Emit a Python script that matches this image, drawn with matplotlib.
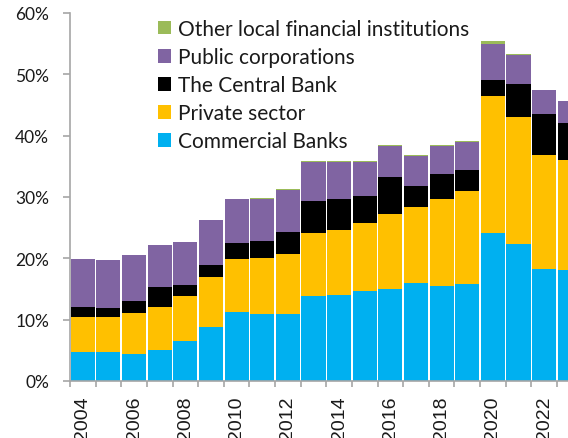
import matplotlib
matplotlib.use("Agg")
import matplotlib.pyplot as plt
import numpy as np

years = list(range(2004, 2024))

# shares of total, in percent
commercial_banks = [4.7, 4.7, 4.4, 5.05, 6.5, 8.85, 11.2, 11.0, 11.0, 13.85,
                    14.1, 14.7, 15.05, 15.9, 15.5, 15.8, 24.2, 22.4, 18.2, 18.05]
private_sector = [5.7, 5.8, 6.7, 7.05, 7.3, 8.05, 8.65, 9.0, 9.65, 10.35,
                  10.6, 11.1, 12.15, 12.55, 14.2, 15.2, 22.3, 20.7, 18.6, 17.95]
central_bank = [1.6, 1.4, 1.9, 3.2, 1.85, 2.0, 2.7, 2.9, 3.7, 5.1,
                5.0, 4.4, 6.1, 3.35, 4.05, 3.35, 2.6, 5.4, 6.7, 6.1]
public_corps = [7.95, 7.9, 7.55, 6.9, 6.95, 7.3, 7.05, 6.8, 6.85, 6.45,
                6.05, 5.55, 5.05, 4.95, 4.6, 4.55, 5.9, 4.7, 3.95, 3.55]
other_local = [0, 0, 0, 0, 0, 0, 0.05, 0.1, 0.1, 0.15,
               0.1, 0.1, 0.15, 0.15, 0.1, 0.2, 0.4, 0.05, 0, 0]

series = [
    ("Commercial Banks", commercial_banks, "#00B0F0"),
    ("Private sector", private_sector, "#FFC000"),
    ("The Central Bank", central_bank, "#000000"),
    ("Public corporations", public_corps, "#8064A2"),
    ("Other local financial institutions", other_local, "#9BBB59"),
]

W, H = 568, 439
fig = plt.figure(figsize=(W / 100, H / 100), dpi=100)
ax = fig.add_axes([70 / W, 57 / H, 512.6 / W, 368 / H])

x = np.arange(len(years))
bottom = np.zeros(len(years))
handles = []
for name, vals, color in series:
    vals = np.array(vals)
    b = ax.bar(x, vals, width=0.94, bottom=bottom, color=color, label=name,
               linewidth=0)
    handles.append(b)
    bottom += vals

ax.set_xlim(-0.5, len(years) - 0.5)
ax.set_ylim(0, 60)

grey = "#a6a6a6"
for side in ("top", "right"):
    ax.spines[side].set_visible(False)
for side in ("left", "bottom"):
    ax.spines[side].set_color(grey)
    ax.spines[side].set_linewidth(1.2)

# y axis
ax.set_yticks(np.arange(0, 61, 10))
ax.set_yticklabels([f"{v}%" for v in range(0, 61, 10)],
                   fontfamily="Lato", fontsize=12.5, color="#1a1a1a")
ax.tick_params(axis="y", direction="out", length=5, width=1.2, color=grey, pad=10)

# x axis: tick marks between bars, labels on every second year
ax.set_xticks(np.arange(-0.5, len(years), 1.0))
ax.set_xticklabels([])
ax.tick_params(axis="x", which="major", direction="out", length=4.5, width=1.2,
               color=grey)
ax.set_xticks(x[::2], minor=True)
ax.set_xticklabels([str(y) for y in years[::2]], minor=True, rotation=90,
                   fontfamily="Liberation Sans", fontsize=14, color="#1a1a1a")
ax.tick_params(axis="x", which="minor", length=0, pad=10.5)

leg = ax.legend(handles[::-1], [s[0] for s in series][::-1],
                loc="upper left", bbox_to_anchor=(158 / W, 1 - 20 / H),
                bbox_transform=fig.transFigure, frameon=False,
                prop={"family": "Lato", "size": 15},
                handlelength=0.62, handleheight=0.62, handletextpad=0.33,
                labelspacing=0.39, borderaxespad=0, borderpad=0)
for t in leg.get_texts():
    t.set_color("#1a1a1a")

fig.savefig("out.png", dpi=100)
